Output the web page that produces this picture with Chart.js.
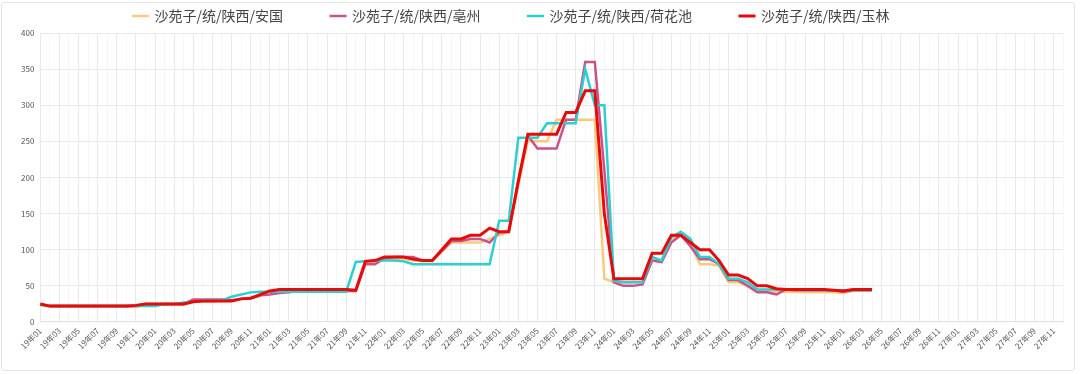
<!DOCTYPE html>
<html>
<head>
<meta charset="utf-8">
<title>沙苑子 价格走势</title>
<script src="https://cdn.jsdelivr.net/npm/chart.js@4.4.1/dist/chart.umd.min.js"></script>
<style>
  body { margin: 0; background: #fff; }
  .chart-box {
    position: absolute; left: 1px; top: 2px;
    width: 1072px; height: 367px;
    border: 1px solid #e4e4e4; border-radius: 3px;
  }
</style>
</head>
<body>
<div class="chart-box"><canvas id="priceChart" width="1072" height="367"></canvas></div>
<script>
// 月份 19年01 ~ 27年12
const months = [];
for (let y = 19; y <= 27; y++) {
  for (let m = 1; m <= 12; m++) {
    months.push(`${y}年${String(m).padStart(2, '0')}`);
  }
}

const seriesNames = ['沙苑子/统/陕西/安国', '沙苑子/统/陕西/亳州', '沙苑子/统/陕西/荷花池', '沙苑子/统/陕西/玉林'];
const seriesColors = ['#fbc97c', '#c9528a', '#2ccfd0', '#e60b0b'];

// 安国
const anguo = [
  23, 21, 21, 21, 21, 21, 21, 21, 21, 21, 21, 24, 24, 24, 24, 24, 28, 28, 28, 29,
  29, 32, 33, 36, 42, 43, 43, 43, 43, 43, 43, 43, 43, 43, 82, 83, 88, 88, 88, 85,
  84, 84, 98, 110, 110, 110, 110, 115, 120, 125, 190, 250, 250, 250, 280, 280, 280, 280, 280, 60,
  55, 55, 55, 55, 88, 85, 112, 122, 108, 80, 80, 78, 55, 55, 50, 43, 43, 42, 42, 42,
  41, 41, 41, 41, 40, 43, 44, 44
];
// 亳州
const bozhou = [
  25, 22, 22, 22, 22, 22, 22, 22, 22, 22, 22, 25, 25, 25, 25, 25, 31, 31, 31, 31,
  30, 32, 33, 37, 38, 40, 41, 43, 43, 43, 43, 43, 43, 43, 80, 80, 88, 90, 90, 90,
  85, 85, 98, 112, 112, 115, 115, 110, 124, 125, 195, 258, 240, 240, 240, 280, 280, 360, 360, 210,
  55, 50, 50, 52, 85, 83, 110, 120, 105, 87, 87, 80, 58, 58, 50, 41, 41, 38, 45, 44,
  44, 44, 44, 44, 42, 44, 44, 44
];
// 荷花池
const hehuachi = [
  24, 22, 22, 22, 22, 22, 22, 22, 22, 22, 22, 22, 22, 25, 25, 27, 28, 30, 30, 30,
  35, 38, 41, 42, 42, 42, 42, 42, 42, 42, 42, 42, 42, 83, 84, 85, 85, 85, 84, 80,
  80, 80, 80, 80, 80, 80, 80, 80, 140, 140, 255, 255, 255, 275, 275, 275, 275, 350, 300, 300,
  57, 55, 55, 55, 90, 85, 117, 125, 115, 90, 90, 80, 60, 60, 55, 45, 45, 45, 45, 45,
  44, 44, 44, 44, 44, 44, 44, 44
];
// 玉林
const yulin = [
  25, 22, 22, 22, 22, 22, 22, 22, 22, 22, 23, 25, 25, 25, 25, 25, 28, 29, 29, 29,
  29, 32, 33, 38, 43, 45, 45, 45, 45, 45, 45, 45, 45, 44, 84, 85, 90, 90, 90, 87,
  85, 85, 100, 115, 115, 120, 120, 130, 125, 125, 195, 260, 260, 260, 260, 290, 290, 320, 320, 150,
  60, 60, 60, 60, 95, 95, 120, 120, 110, 100, 100, 85, 65, 65, 60, 50, 50, 46, 45, 45,
  45, 45, 45, 44, 43, 45, 45, 45
];

const allSeries = [anguo, bozhou, hehuachi, yulin];
const drawOrder = [3, 2, 1, 0];   // 玉林在最上面
const lineWidths = [2.5, 2.5, 2.5, 3];

const FONT = '"Noto Sans CJK SC", "Noto Sans", sans-serif';

function buildDatasets() {
  return seriesNames.map((name, i) => ({
    label: name,
    data: allSeries[i],
    borderColor: seriesColors[i],
    backgroundColor: seriesColors[i],
    borderWidth: lineWidths[i],
    pointRadius: 0,
    pointHoverRadius: 0,
    pointStyle: 'line',
    tension: 0,
    fill: false,
    order: drawOrder[i]
  }));
}

function legendLabels(chart) {
  const items = Chart.defaults.plugins.legend.labels.generateLabels(chart);
  items.forEach(item => {
    // 留出图例之间的间距，最后一项多留一点让整体偏左
    const last = item.datasetIndex === seriesNames.length - 1;
    item.text += last ? '\u3000\u3000\u3000\u3000' : '\u3000\u3000\u3000';
  });
  return items;
}

const ctx = document.getElementById('priceChart').getContext('2d');
new Chart(ctx, {
  type: 'line',
  data: { labels: months, datasets: buildDatasets() },
  options: {
    responsive: false,
    animation: false,
    layout: { padding: { left: 13, right: 10, top: 0, bottom: 15 } },
    plugins: {
      legend: {
        position: 'top',
        labels: {
          usePointStyle: true,
          boxHeight: 12,
          padding: 6,
          color: '#444',
          font: { family: FONT, size: 14 },
          generateLabels: legendLabels,
          sort: (a, b) => a.datasetIndex - b.datasetIndex
        }
      },
      tooltip: { enabled: false }
    },
    scales: {
      x: {
        grid: {
          color: c => (c.index % 2 === 0 ? '#e9e9e9' : '#f5f5f5'),
          drawTicks: false
        },
        border: { color: '#dedede' },
        ticks: {
          autoSkip: false,
          maxRotation: 45,
          minRotation: 45,
          padding: 4,
          color: '#555',
          font: { family: FONT, size: 8 },
          callback: (v, i) => (i % 2 === 0 ? months[i] : '')
        }
      },
      y: {
        min: 0,
        max: 400,
        grid: { color: '#e9e9e9', drawTicks: false },
        border: { display: false },
        ticks: {
          stepSize: 50,
          padding: 6,
          color: '#555',
          font: { family: FONT, size: 8 }
        }
      }
    }
  }
});
</script>
</body>
</html>
